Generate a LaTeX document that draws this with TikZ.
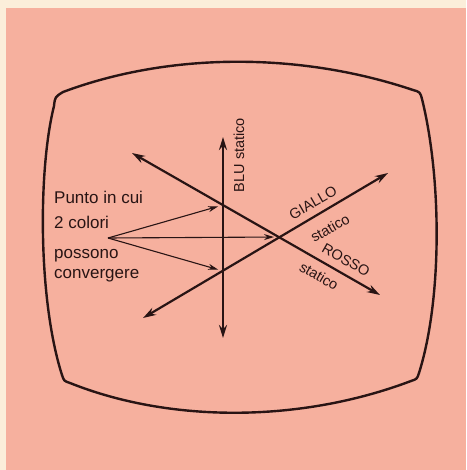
\documentclass[tikz,border=0pt]{standalone}
\usepackage{fontspec}
\setmainfont{Liberation Sans}
\definecolor{tvpink}{RGB}{246,176,158}
\definecolor{tvcream}{RGB}{251,238,218}
\definecolor{tvink}{RGB}{40,20,20}
\usetikzlibrary{arrows.meta}

\begin{document}
\begin{tikzpicture}[
      x=1pt, y=-1pt,
      screen/.style={draw=tvink, line width=2.4pt, line join=round},
      beam/.style={{Stealth[length=13pt,width=8pt]}-{Stealth[length=13pt,width=8pt]}, tvink, line width=2.2pt},
      pointer/.style={-{Stealth[length=10pt,width=6pt]}, tvink, line width=1.1pt, shorten >=5pt},
      note/.style={font=\fontsize{17}{20}\selectfont, text=tvink, inner sep=0pt, anchor=base west},
      tag/.style={font=\fontsize{14.5}{17}\selectfont, text=tvink, inner sep=0pt}
    ]
    \useasboundingbox (0,0) rectangle (466,470);
    \fill[tvcream] (0,0) rectangle (466,470);
    \fill[tvpink] (6,8) rectangle (466,470);

    % tube outline
    \draw[screen] (63,92) .. controls (170,52) and (300,52) .. (413,90)
      .. controls (420,92) .. (422,99)
      .. controls (442,180) and (442,300) .. (419,373)
      .. controls (417,379) .. (411,381)
      .. controls (300,423) and (170,423) .. (70,383)
      .. controls (64,381) .. (62,375)
      .. controls (38,300) and (38,170) .. (54,106)
      .. controls (55,97) .. cycle;

    % beam ends
    \coordinate (bluTop) at (223,137);
    \coordinate (bluBot) at (223,338);
    \coordinate (rossoA) at (132,153);
    \coordinate (rossoB) at (380,295);
    \coordinate (gialloA) at (143,318);
    \coordinate (gialloB) at (388,173);

    \draw[beam] (bluTop) -- (bluBot);
    \draw[beam] (rossoA) -- (rossoB);
    \draw[beam] (gialloA) -- (gialloB);

    % crossing points
    \coordinate (xBR) at (223,205);
    \coordinate (xBG) at (223,271);
    \coordinate (xRG) at (279,237);
    \coordinate (src) at (108,238);

    \draw[pointer] (src) -- (xBR);
    \draw[pointer] (src) -- (xRG);
    \draw[pointer] (src) -- (xBG);

    \node[note] (lineA) at (54,203) {Punto in cui};
    \node[note] (lineB) at (54,228) {2 colori};
    \node[note] (lineC) at (54,258) {possono};
    \node[note] (lineD) at (54,278) {convergere};

    \node[tag, rotate=90] (blu) at (239,155) {BLU statico};
    \node[tag, rotate=30] (giallo) at (313,203) {GIALLO};
    \node[tag, rotate=30] (gstat) at (330,228) {statico};
    \node[tag, rotate=-30] (rosso) at (346,260) {ROSSO};
    \node[tag, rotate=-30] (rstat) at (319,276) {statico};
  \end{tikzpicture}
\end{document}
